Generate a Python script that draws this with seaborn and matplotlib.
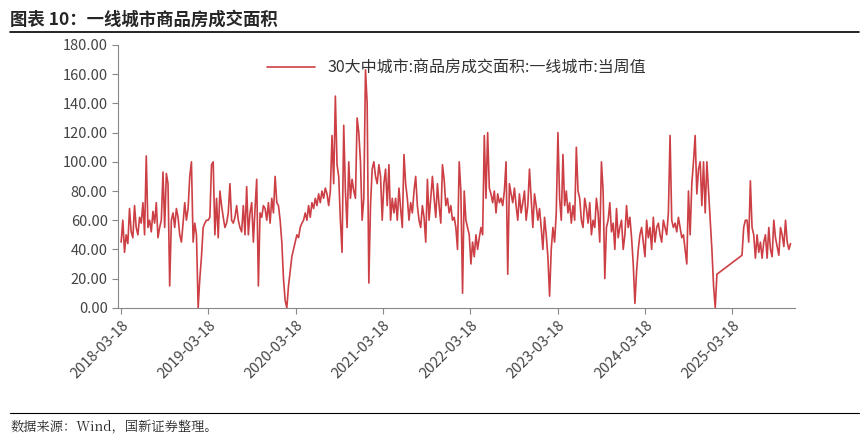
import matplotlib
matplotlib.use("Agg")
import matplotlib.pyplot as plt
from matplotlib.ticker import FormatStrFormatter
import seaborn as sns
import pandas as pd
import numpy as np

sns.set_style("white")
plt.rcParams['font.family'] = ['Noto Sans CJK SC', 'DejaVu Sans']

title = "图表 10：一线城市商品房成交面积"
source = "数据来源：Wind，国新证券整理。"
series_name = "30大中城市:商品房成交面积:一线城市:当周值"

y2018 = [45,60,38,50,44,68,52,48,70,55,50,62,58,72,50,104,55,60,52,66,58,72,48,55,60,93,55,92,85,15,60,65,55,68,62,50,45,58,72,60,68,90,100,45,58,50,0,20,35,55,58,60]
y2019 = [60,62,98,100,50,75,48,80,70,62,55,58,65,85,60,58,62,70,60,55,52,70,50,83,50,65,72,45,68,88,15,65,62,70,68,60,72,58,75,65,90,72,70,60,45,20,5,0,15,25,35,40]
y2020 = [45,50,48,55,58,60,65,60,70,62,72,68,75,70,78,72,80,75,82,78,70,80,118,85,145,98,90,60,38,125,80,55,100,75,88,80,75,130,120,100,60,75,163,140,17,70,95,100,90,85,98,90]
y2021 = [60,85,95,70,98,60,75,65,75,60,82,68,55,105,85,75,60,72,65,80,90,70,60,55,70,62,45,88,60,75,90,75,62,85,70,58,98,88,70,75,65,70,60,62,55,40,100,80,10,80,60,55]
y2022 = [50,30,45,35,50,40,48,55,50,118,75,120,82,78,72,80,65,78,72,75,70,80,100,23,85,78,72,82,70,60,78,65,72,80,60,70,95,75,55,78,70,60,68,55,40,62,50,35,8,40,55,45]
y2023 = [65,120,75,60,105,70,80,65,72,58,70,60,110,80,75,60,55,75,68,58,72,50,60,55,75,65,45,100,80,20,55,60,72,52,58,40,68,48,55,60,40,50,70,55,62,48,30,3,25,40,50,55]
y2024 = [45,35,60,48,55,40,62,45,55,58,50,45,60,55,50,65,118,60,55,58,52,62,55,48,50,40,30,80,50,85,100,118,78,95,100,70,100,65,100,80,60,40,15,0,23]
y2025 = [36,55,60,60,45,87,55,50,34,50,38,45,34,45,50,34,55,40,35,60,48,42,36,55,50,42,60,45,40,44]

seg1 = y2018 + y2019 + y2020 + y2021 + y2022 + y2023 + y2024
d1 = pd.date_range("2018-03-18", periods=len(seg1), freq="7D")
d2 = pd.date_range("2025-04-27", periods=len(y2025), freq="7D")
df = pd.DataFrame({"date": list(d1) + list(d2), "value": seg1 + y2025})

fig = plt.figure(figsize=(8.68, 4.41), dpi=100)
ax = fig.add_axes([0.136, 0.302, 0.780, 0.596])
sns.lineplot(data=df, x="date", y="value", ax=ax, color="#cc3f45", lw=1.2, label=series_name)

ax.set_ylim(0, 180)
ax.set_yticks(np.arange(0, 181, 20))
ax.yaxis.set_major_formatter(FormatStrFormatter("%.2f"))
ticks = pd.date_range("2018-03-18", periods=8, freq=pd.DateOffset(years=1))
ax.set_xticks(ticks)
ax.set_xticklabels([t.strftime("%Y-%m-%d") for t in ticks], rotation=45, ha="right", rotation_mode="anchor")
ax.set_xlim(pd.Timestamp("2018-03-05"), pd.Timestamp("2025-12-05"))
ax.set_xlabel("")
ax.set_ylabel("")
for s in ["top", "right"]:
    ax.spines[s].set_visible(False)
for s in ["left", "bottom"]:
    ax.spines[s].set_color("#888888")
ax.tick_params(axis="both", labelsize=10.5, labelcolor="#444444", color="#888888", length=4, direction="out", left=True, bottom=True)
leg = ax.legend(loc="upper center", bbox_to_anchor=(0.5, 1.0), frameon=False, fontsize=11.5, handlelength=3)
for t in leg.get_texts():
    t.set_color("#333333")

fig.text(0.012, 0.955, title, fontsize=12.5, fontweight="bold", style="italic", va="center", ha="left")
fig.add_artist(plt.Line2D([0.012, 0.99], [0.928, 0.928], color="black", lw=1.2))
fig.add_artist(plt.Line2D([0.012, 0.99], [0.063, 0.063], color="black", lw=0.8))
fig.text(0.012, 0.03, source, fontsize=9.5, va="center", ha="left",
         family=["Noto Serif CJK SC", "Noto Sans CJK SC", "DejaVu Sans"])

fig.savefig("out.png", dpi=100)
